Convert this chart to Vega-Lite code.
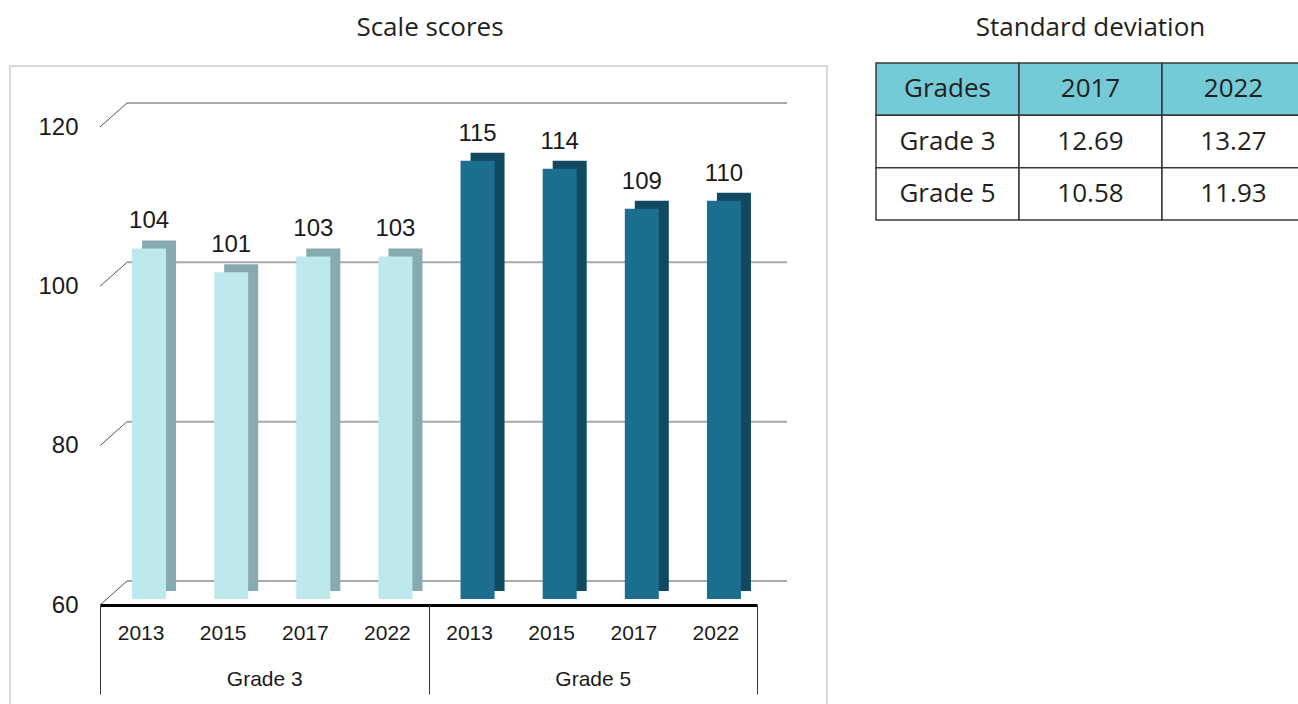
{
  "$schema": "https://vega.github.io/schema/vega-lite/v6.json",
  "width": 687,
  "height": 478,
  "autosize": {"type": "none"},
  "padding": {"left": 100, "top": 127, "right": 511, "bottom": 99},
  "background": "white",
  "config": {"view": {"stroke": null}},
  "resolve": {"scale": {"x": "independent", "y": "independent"}, "axis": {"x": "independent", "y": "independent"}},
  "data": {"values": [
    {"grade": "Grade 3", "year": "2013", "key": "Grade 3 2013", "score": 104},
    {"grade": "Grade 3", "year": "2015", "key": "Grade 3 2015", "score": 101},
    {"grade": "Grade 3", "year": "2017", "key": "Grade 3 2017", "score": 103},
    {"grade": "Grade 3", "year": "2022", "key": "Grade 3 2022", "score": 103},
    {"grade": "Grade 5", "year": "2013", "key": "Grade 5 2013", "score": 115},
    {"grade": "Grade 5", "year": "2015", "key": "Grade 5 2015", "score": 114},
    {"grade": "Grade 5", "year": "2017", "key": "Grade 5 2017", "score": 109},
    {"grade": "Grade 5", "year": "2022", "key": "Grade 5 2022", "score": 110}
  ]},
  "layer": [
    {
      "data": {"values": [{}]},
      "mark": {"type": "rect", "x": -90, "x2": 727, "y": -61, "y2": 600, "fill": "white", "fillOpacity": 0, "stroke": "#d9d9d9", "strokeWidth": 2},
      "encoding": {}
    },
    {
      "data": {"values": [{"v": 60}, {"v": 80}, {"v": 100}, {"v": 120}]},
      "mark": {"type": "rule", "x": 27, "x2": 687, "yOffset": -24, "color": "#a9a9a9", "strokeWidth": 2},
      "encoding": {
        "y": {"field": "v", "type": "quantitative", "scale": {"domain": [60, 120], "nice": false, "zero": false}, "axis": null}
      }
    },
    {
      "data": {"values": [{"v": 60}, {"v": 80}, {"v": 100}, {"v": 120}]},
      "mark": {"type": "rule", "y2Offset": -24, "color": "#555555", "strokeWidth": 1},
      "encoding": {
        "x": {"value": 0},
        "x2": {"value": 27},
        "y": {"field": "v", "type": "quantitative", "scale": {"domain": [60, 120], "nice": false, "zero": false}, "axis": null},
        "y2": {"field": "v"}
      }
    },
    {
      "mark": {"type": "bar", "width": 34, "xOffset": 18, "x2Offset": 18, "yOffset": -14, "y2Offset": -14},
      "encoding": {
        "x": {"field": "key", "type": "nominal", "scale": {"range": [0, 657], "paddingInner": 0, "paddingOuter": 0}, "axis": null},
        "y": {"field": "score", "type": "quantitative", "scale": {"domain": [60, 120], "nice": false, "zero": false}, "axis": null},
        "y2": {"datum": 60},
        "color": {"condition": {"test": "datum.grade === 'Grade 3'", "value": "#86aaad"}, "value": "#114a60"}
      }
    },
    {
      "mark": {"type": "bar", "width": 34, "xOffset": 8, "x2Offset": 8, "yOffset": -6, "y2Offset": -6},
      "encoding": {
        "x": {"field": "key", "type": "nominal", "scale": {"range": [0, 657], "paddingInner": 0, "paddingOuter": 0}, "axis": {
          "orient": "bottom", "title": null, "domain": true, "domainColor": "#000000", "domainWidth": 3,
          "ticks": false, "labelPadding": 17, "labelExpr": "slice(datum.label, 8)",
          "labelFont": "Liberation Sans", "labelFontSize": 21, "labelColor": "#1a1a1a", "labelAngle": 0, "grid": false
        }},
        "y": {"field": "score", "type": "quantitative", "scale": {"domain": [60, 120], "nice": false, "zero": false}, "axis": {
          "title": null, "values": [60, 80, 100, 120], "domain": false, "ticks": false, "grid": false,
          "labelPadding": 22, "labelFont": "Liberation Sans", "labelFontSize": 24, "labelColor": "#1a1a1a"
        }},
        "y2": {"datum": 60},
        "color": {"condition": {"test": "datum.grade === 'Grade 3'", "value": "#bde8ec"}, "value": "#1c6e8e"}
      }
    },
    {
      "mark": {"type": "text", "xOffset": 8, "yOffset": -33, "baseline": "middle", "font": "Liberation Sans", "fontSize": 24, "color": "#1a1a1a"},
      "encoding": {
        "x": {"field": "key", "type": "nominal", "scale": {"range": [0, 657], "paddingInner": 0, "paddingOuter": 0}, "axis": null},
        "y": {"field": "score", "type": "quantitative", "scale": {"domain": [60, 120], "nice": false, "zero": false}, "axis": null},
        "text": {"field": "score", "type": "quantitative"}
      }
    },
    {
      "mark": {"type": "point", "opacity": 0},
      "encoding": {
        "x": {"field": "grade", "type": "nominal", "scale": {"domain": ["Grade 3", "Grade 5"], "range": [0, 657], "paddingInner": 0, "paddingOuter": 0}, "axis": {
          "orient": "bottom", "title": null, "domain": false,
          "ticks": true, "tickBand": "extent", "tickSize": 89, "tickColor": "#333333", "tickWidth": 1,
          "labelPadding": -26, "labelFont": "Liberation Sans", "labelFontSize": 21, "labelColor": "#1a1a1a", "labelAngle": 0, "grid": false
        }}
      }
    },
    {
      "data": {"values": [{"t": "Scale scores"}]},
      "mark": {"type": "text", "y": -91, "baseline": "alphabetic", "font": "Open Sans", "fontSize": 26, "color": "#231f20"},
      "encoding": {
        "x": {"field": "t", "type": "nominal", "scale": {"domain": ["Scale scores"], "range": [0, 660], "paddingInner": 0, "paddingOuter": 0}, "axis": null},
        "text": {"field": "t", "type": "nominal"}
      }
    },
    {
      "data": {"values": [
        {"row": "Grades", "col": "Grades", "text": "Grades"},
        {"row": "Grades", "col": "2017", "text": "2017"},
        {"row": "Grades", "col": "2022", "text": "2022"},
        {"row": "Grade 3", "col": "Grades", "text": "Grade 3"},
        {"row": "Grade 3", "col": "2017", "text": "12.69"},
        {"row": "Grade 3", "col": "2022", "text": "13.27"},
        {"row": "Grade 5", "col": "Grades", "text": "Grade 5"},
        {"row": "Grade 5", "col": "2017", "text": "10.58"},
        {"row": "Grade 5", "col": "2022", "text": "11.93"}
      ]},
      "layer": [
        {
          "mark": {"type": "rect", "stroke": "#3a3a3a", "strokeWidth": 1.5},
          "encoding": {
            "x": {"field": "col", "type": "nominal", "scale": {"domain": ["Grades", "2017", "2022"], "range": [776, 1205], "paddingInner": 0, "paddingOuter": 0}, "axis": null},
            "y": {"field": "row", "type": "nominal", "scale": {"domain": ["Grades", "Grade 3", "Grade 5"], "range": [-64, 93], "paddingInner": 0, "paddingOuter": 0}, "axis": null},
            "fill": {"condition": {"test": "datum.row === 'Grades'", "value": "#74cad7"}, "value": "#ffffff"}
          }
        },
        {
          "mark": {"type": "text", "baseline": "middle", "font": "Open Sans", "fontSize": 26, "color": "#231f20"},
          "encoding": {
            "x": {"field": "col", "type": "nominal", "axis": null},
            "y": {"field": "row", "type": "nominal", "axis": null},
            "text": {"field": "text", "type": "nominal"}
          }
        },
        {
          "data": {"values": [{"col": "2017", "t": "Standard deviation"}]},
          "mark": {"type": "text", "y": -91, "baseline": "alphabetic", "font": "Open Sans", "fontSize": 26, "color": "#231f20"},
          "encoding": {
            "x": {"field": "col", "type": "nominal", "axis": null},
            "text": {"field": "t", "type": "nominal"}
          }
        }
      ]
    }
  ]
}
